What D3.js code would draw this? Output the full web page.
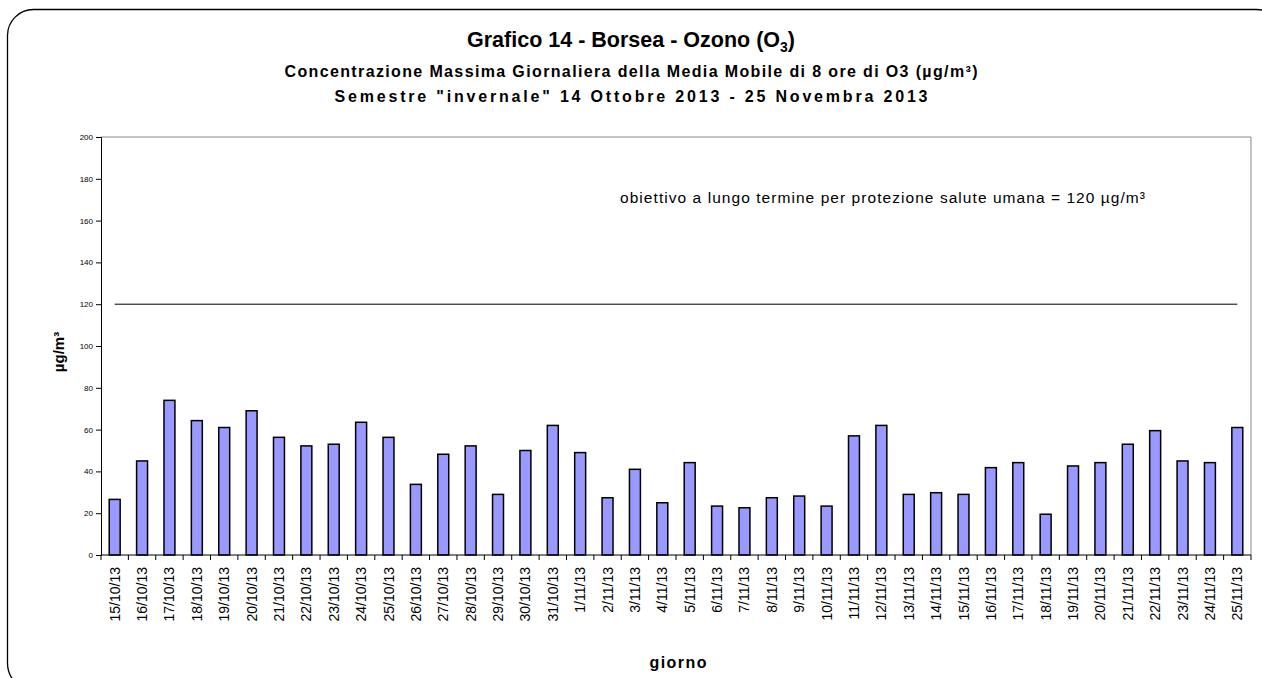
<!DOCTYPE html>
<html>
<head>
<meta charset="utf-8">
<script src="https://cdn.jsdelivr.net/npm/d3@7"></script>
<style>
body { margin: 0; background: #fff; }
svg { font-family: "Liberation Sans", Arial, sans-serif; }
</style>
</head>
<body>
<div id="chart"></div>
<script>
var days = ['15/10/13','16/10/13','17/10/13','18/10/13','19/10/13','20/10/13','21/10/13','22/10/13','23/10/13','24/10/13',
    '25/10/13','26/10/13','27/10/13','28/10/13','29/10/13','30/10/13','31/10/13','1/11/13','2/11/13','3/11/13',
    '4/11/13','5/11/13','6/11/13','7/11/13','8/11/13','9/11/13','10/11/13','11/11/13','12/11/13','13/11/13',
    '14/11/13','15/11/13','16/11/13','17/11/13','18/11/13','19/11/13','20/11/13','21/11/13','22/11/13','23/11/13',
    '24/11/13','25/11/13'];
var ozone = [26.6,45,74,64.3,61,69,56.3,52.2,53,63.5,
    56.3,33.8,48.2,52.2,29,50,62,49,27.4,41,
    25,44.2,23.4,22.6,27.4,28.2,23.4,57,62,29,
    29.8,29,41.8,44.2,19.5,42.6,44.2,53,59.5,45,
    44.2,61];
var yTicks = [0,20,40,60,80,100,120,140,160,180,200];
var target = 120;

var width = 1262, height = 678;
var pLeft = 101, pRight = 1251, pTop = 137, pBottom = 555;

var svg = d3.select('#chart')
    .append('svg')
    .attr('width', width)
    .attr('height', height);

// outer frame
svg.append('rect')
    .attr('x', 7.5).attr('y', 9.5)
    .attr('width', 1275).attr('height', 680)
    .attr('rx', 26).attr('ry', 26)
    .attr('fill', 'none')
    .attr('stroke', '#000')
    .attr('stroke-width', 1.3);

var x = d3.scaleBand().domain(days).range([pLeft, pRight]);
var y = d3.scaleLinear().domain([0, 200]).range([pBottom, pTop]);

// plot border (gray top/right)
svg.append('path')
    .attr('d', `M${pLeft},${pTop}H${pRight}V${pBottom}`)
    .attr('fill', 'none')
    .attr('stroke', '#888')
    .attr('stroke-width', 1);

var barW = x.bandwidth() / 2.5;

svg.selectAll('.bar')
    .data(ozone)
    .enter()
    .append('rect')
    .attr('class', 'bar')
    .attr('x', (d, i) => x(days[i]) + x.bandwidth() / 2 - barW / 2)
    .attr('y', d => y(d))
    .attr('width', barW)
    .attr('height', d => y(0) - y(d))
    .attr('fill', '#9999FF')
    .attr('stroke', '#000')
    .attr('stroke-width', 1.5);

// target line
svg.append('line')
    .attr('x1', x(days[0]) + x.bandwidth() / 2)
    .attr('x2', x(days[days.length - 1]) + x.bandwidth() / 2)
    .attr('y1', y(target)).attr('y2', y(target))
    .attr('stroke', '#000')
    .attr('stroke-width', 1);

svg.append('text')
    .attr('x', 620).attr('y', 203)
    .attr('font-size', 15.5)
    .attr('textLength', 525)
    .attr('lengthAdjust', 'spacing')
    .text('obiettivo a lungo termine per protezione salute umana = 120 µg/m³');

// y axis
var yAxis = svg.append('g')
    .attr('transform', `translate(${pLeft},0)`)
    .call(d3.axisLeft(y).tickValues(yTicks).tickSize(5).tickPadding(3));
yAxis.select('.domain').attr('stroke', '#000');
yAxis.selectAll('.tick line').attr('stroke', '#000');
yAxis.selectAll('text')
    .attr('font-size', 8)
    .attr('font-family', 'Liberation Sans, Arial, sans-serif')
    .attr('fill', '#000');

// x axis
var xAxis = svg.append('g')
    .attr('transform', `translate(0,${pBottom})`);
xAxis.append('line')
    .attr('x1', pLeft).attr('x2', pRight)
    .attr('stroke', '#000').attr('stroke-width', 1.2);
xAxis.selectAll('.tk')
    .data(days.concat(['end']))
    .enter()
    .append('line')
    .attr('x1', (d, i) => pLeft + i * x.step())
    .attr('x2', (d, i) => pLeft + i * x.step())
    .attr('y1', 0).attr('y2', 5)
    .attr('stroke', '#000');
xAxis.selectAll('.lbl')
    .data(days)
    .enter()
    .append('text')
    .attr('transform', d => `translate(${x(d) + x.bandwidth() / 2 + 5},12)rotate(-90)`)
    .attr('text-anchor', 'end')
    .attr('font-size', 14)
    .text(d => d);

// titles
svg.append('text')
    .attr('x', 631).attr('y', 47)
    .attr('text-anchor', 'middle')
    .attr('font-size', 21.5).attr('font-weight', 'bold')
    .html('Grafico 14 - Borsea - Ozono (O<tspan font-size="14" dy="5">3</tspan><tspan dy="-5">)</tspan>');
svg.append('text')
    .attr('x', 631).attr('y', 77)
    .attr('text-anchor', 'middle')
    .attr('font-size', 16).attr('font-weight', 'bold')
    .attr('textLength', 693)
    .attr('lengthAdjust', 'spacing')
    .text('Concentrazione Massima Giornaliera della Media Mobile di 8 ore di O3 (µg/m³)');
svg.append('text')
    .attr('x', 631).attr('y', 102)
    .attr('text-anchor', 'middle')
    .attr('font-size', 16).attr('font-weight', 'bold')
    .attr('textLength', 593)
    .attr('lengthAdjust', 'spacing')
    .text('Semestre "invernale" 14 Ottobre 2013 - 25 Novembra 2013');

svg.append('text')
    .attr('x', 678).attr('y', 668)
    .attr('text-anchor', 'middle')
    .attr('font-size', 16).attr('font-weight', 'bold')
    .attr('textLength', 57)
    .attr('lengthAdjust', 'spacing')
    .text('giorno');

svg.append('text')
    .attr('transform', 'translate(64,352)rotate(-90)')
    .attr('text-anchor', 'middle')
    .attr('font-size', 15).attr('font-weight', 'bold')
    .text('µg/m³');
</script>
</body>
</html>
